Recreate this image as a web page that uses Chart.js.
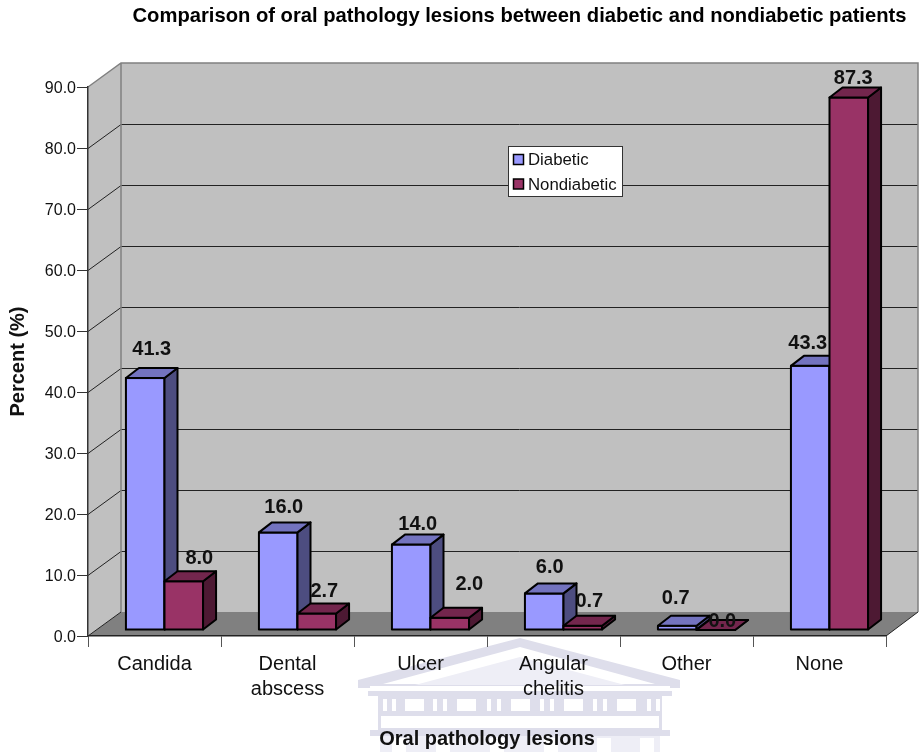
<!DOCTYPE html>
<html>
<head>
<meta charset="utf-8">
<title>Oral pathology lesions</title>
<script src="https://cdn.jsdelivr.net/npm/chart.js@4"></script>
<style>
  html, body { margin: 0; padding: 0; background: #fff; }
  canvas { display: block; }
</style>
</head>
<body>
<canvas id="lesionChart" width="919" height="752"></canvas>
<script>
const categories = ['Candida', ['Dental', 'abscess'], 'Ulcer', ['Angular', 'chelitis'], 'Other', 'None'];
const diabetic = [41.3, 16.0, 14.0, 6.0, 0.7, 43.3];
const nondiabetic = [8.0, 2.7, 2.0, 0.7, 0.0, 87.3];
const titleText = 'Comparison of oral pathology lesions between diabetic and nondiabetic patients';

// nudges for value labels, so they sit where they read best: [dx, dy] from the bar top
const diabeticLabelNudge = [[6.5, -29], [5.5, -25], [6.5, -20], [5.5, -26], [-1.5, -27], [-2.5, -22]];
const nondiabeticLabelNudge = [[15.5, -23], [7.5, -22], [19.5, -33], [6.5, -24], [6.5, -8.5], [4.5, -19]];

const FONT = '"Liberation Sans", Arial, sans-serif';

// wall depth, bar offset from the front plane, bar depth
const WALL_DX = 33, WALL_DY = 24;
const BAR_DX = 10, BAR_DY = 6;
const DEPTH_DX = 13, DEPTH_DY = 10;

const faceColors = [
  { side: '#4D4D80', top: '#7373BF' },
  { side: '#4D1933', top: '#73264D' }
];

// faint building crest behind the lower labels
function drawCrest(ctx) {
  const dark = '#DEDEEB', light = '#EEEEF6';
  ctx.save();
  ctx.filter = 'blur(0.7px)';
  // pediment: outer band, white stripe, inner field
  ctx.fillStyle = dark;
  ctx.beginPath();
  ctx.moveTo(520, 638);
  ctx.lineTo(680, 680);
  ctx.lineTo(680, 688);
  ctx.lineTo(358, 688);
  ctx.lineTo(358, 680);
  ctx.closePath();
  ctx.fill();
  ctx.fillStyle = '#FFFFFF';
  ctx.beginPath();
  ctx.moveTo(520, 647);
  ctx.lineTo(655, 684);
  ctx.lineTo(383, 684);
  ctx.closePath();
  ctx.fill();
  ctx.fillStyle = light;
  ctx.beginPath();
  ctx.moveTo(520, 657);
  ctx.lineTo(625, 685);
  ctx.lineTo(415, 685);
  ctx.closePath();
  ctx.fill();
  // white strip, cornice, then the window row
  ctx.fillStyle = '#FFFFFF';
  ctx.fillRect(370, 686, 300, 5);
  ctx.fillStyle = dark;
  ctx.fillRect(368, 691, 304, 5);
  ctx.fillRect(378, 696, 284, 40);
  ctx.fillRect(370, 730, 300, 6);
  ctx.fillStyle = '#FFFFFF';
  for (const x of [405, 457, 511, 564, 617]) ctx.fillRect(x, 699, 19, 12);
  for (const x of [383, 392, 433, 443, 487, 497, 540, 550, 593, 603, 647, 656]) ctx.fillRect(x, 699, 4, 12);
  ctx.fillRect(381, 716, 278, 12);
  // columns
  ctx.fillStyle = light;
  ctx.fillRect(380, 736, 280, 16);
  ctx.fillStyle = '#FFFFFF';
  for (const x of [392, 436, 490, 544, 597, 640]) ctx.fillRect(x, 738, 14, 14);
  ctx.restore();
}

function poly(ctx, pts, fill, stroke, lineWidth) {
  ctx.beginPath();
  pts.forEach((p, i) => i ? ctx.lineTo(p[0], p[1]) : ctx.moveTo(p[0], p[1]));
  ctx.closePath();
  ctx.fillStyle = fill;
  ctx.fill();
  if (stroke) {
    ctx.strokeStyle = stroke;
    ctx.lineWidth = lineWidth || 1;
    ctx.lineJoin = 'round';
    ctx.stroke();
  }
}

const boxPlugin = {
  id: 'box3d',
  beforeDraw(chart) {
    const { ctx, chartArea: a, scales: { y } } = chart;
    drawCrest(ctx);

    // left wall, back wall, floor
    poly(ctx, [[a.left, a.bottom], [a.left, a.top], [a.left + WALL_DX, a.top - WALL_DY], [a.left + WALL_DX, a.bottom - WALL_DY]], '#C0C0C0');
    poly(ctx, [[a.left + WALL_DX, a.top - WALL_DY], [a.right + WALL_DX - 1, a.top - WALL_DY], [a.right + WALL_DX - 1, a.bottom - WALL_DY], [a.left + WALL_DX, a.bottom - WALL_DY]], '#C0C0C0');
    poly(ctx, [[a.left, a.bottom], [a.left + WALL_DX, a.bottom - WALL_DY], [a.right + WALL_DX - 1, a.bottom - WALL_DY], [a.right, a.bottom]], '#808080');

    // gridlines run up the left wall and across the back
    ctx.strokeStyle = '#222';
    ctx.lineWidth = 1;
    y.ticks.forEach(t => {
      if (t.value === 0 || t.value === y.max) return;
      const py = Math.round(y.getPixelForValue(t.value)) + 0.5;
      ctx.beginPath();
      ctx.moveTo(a.left, py);
      ctx.lineTo(a.left + WALL_DX, py - WALL_DY);
      ctx.lineTo(a.right + WALL_DX - 1, py - WALL_DY);
      ctx.stroke();
    });

    // wall edges
    ctx.strokeStyle = '#808080';
    ctx.lineWidth = 1.5;
    ctx.beginPath();
    ctx.moveTo(a.left, a.top);
    ctx.lineTo(a.left + WALL_DX, a.top - WALL_DY);
    ctx.lineTo(a.right + WALL_DX - 1, a.top - WALL_DY);
    ctx.lineTo(a.right + WALL_DX - 1, a.bottom - WALL_DY);
    ctx.moveTo(a.left + WALL_DX, a.top - WALL_DY);
    ctx.lineTo(a.left + WALL_DX, a.bottom - WALL_DY);
    ctx.stroke();
    ctx.strokeStyle = '#222';
    ctx.lineWidth = 1;
    ctx.beginPath();
    ctx.moveTo(a.left, a.bottom);
    ctx.lineTo(a.left + WALL_DX, a.bottom - WALL_DY);
    ctx.moveTo(a.right, a.bottom);
    ctx.lineTo(a.right + WALL_DX - 1, a.bottom - WALL_DY);
    ctx.stroke();
  },
  // the default pass paints the last series first; the boxes need the first series at the back
  beforeDatasetDraw() {
    return false;
  },
  afterDatasetsDraw(chart) {
    const { ctx } = chart;
    ctx.save();
    // bars sit a little behind the front plane
    ctx.translate(BAR_DX, -BAR_DY);
    chart.data.datasets.forEach((ds, i) => {
      const colors = faceColors[i];
      chart.getDatasetMeta(i).data.forEach(bar => {
        const { x, y, base, width } = bar.getProps(['x', 'y', 'base', 'width'], true);
        const l = x - width / 2, r = x + width / 2;
        bar.draw(ctx);
        ctx.strokeStyle = '#000';
        ctx.lineWidth = 2;
        ctx.strokeRect(l, y, width, base - y);
        poly(ctx, [[r, y], [r + DEPTH_DX, y - DEPTH_DY], [r + DEPTH_DX, base - DEPTH_DY], [r, base]], colors.side, '#000', 2);
        poly(ctx, [[l, y], [l + DEPTH_DX, y - DEPTH_DY], [r + DEPTH_DX, y - DEPTH_DY], [r, y]], colors.top, '#000', 2);
      });
    });
    ctx.restore();
  },
  afterDraw(chart) {
    const { ctx } = chart;
    ctx.save();

    ctx.fillStyle = '#000';
    ctx.textAlign = 'center';
    ctx.textBaseline = 'middle';
    ctx.font = 'bold 20.2px ' + FONT;
    ctx.fillText(titleText, 519.5, 16);

    // value labels
    ctx.fillStyle = '#111';
    ctx.font = 'bold 20px ' + FONT;
    [diabeticLabelNudge, nondiabeticLabelNudge].forEach((nudge, ds) => {
      chart.getDatasetMeta(ds).data.forEach((bar, i) => {
        const value = chart.data.datasets[ds].data[i];
        ctx.fillText(value.toFixed(1), bar.x + BAR_DX + nudge[i][0], bar.y - BAR_DY + nudge[i][1]);
      });
    });

    // legend box
    const lx = 508.5, ly = 146.5, lw = 114, lh = 50;
    ctx.fillStyle = '#fff';
    ctx.fillRect(lx, ly, lw, lh);
    ctx.strokeStyle = '#333';
    ctx.lineWidth = 1;
    ctx.strokeRect(lx, ly, lw, lh);
    ctx.textAlign = 'left';
    ctx.font = '16.8px ' + FONT;
    chart.data.datasets.forEach((ds, i) => {
      const rowY = 159.5 + i * 24.5;
      ctx.fillStyle = ds.backgroundColor;
      ctx.fillRect(lx + 5, rowY - 5, 10, 10);
      ctx.strokeStyle = '#000';
      ctx.lineWidth = 1.5;
      ctx.strokeRect(lx + 5, rowY - 5, 10, 10);
      ctx.fillStyle = '#111';
      ctx.fillText(ds.label, 528, rowY + 1);
    });
    ctx.restore();
  }
};

new Chart(document.getElementById('lesionChart').getContext('2d'), {
  type: 'bar',
  data: {
    labels: categories,
    datasets: [
      { label: 'Diabetic', data: diabetic, backgroundColor: '#9999FF' },
      { label: 'Nondiabetic', data: nondiabetic, backgroundColor: '#993366' }
    ]
  },
  options: {
    responsive: false,
    animation: false,
    events: [],
    layout: { padding: { top: 87, right: 33, bottom: 0, left: 0 } },
    datasets: {
      bar: {
        categoryPercentage: 0.58,
        barPercentage: 1,
        borderWidth: 0,
        clip: false
      }
    },
    plugins: {
      legend: { display: false },
      title: { display: false },
      tooltip: { enabled: false }
    },
    scales: {
      x: {
        afterFit: scale => { scale.height = 116; },
        grid: { offset: true, drawOnChartArea: false, tickLength: 11, tickColor: '#555', lineWidth: 1 },
        border: { color: '#222', width: 1.5 },
        ticks: {
          color: '#111',
          padding: 5,
          autoSkip: false,
          maxRotation: 0,
          font: { family: FONT, size: 20, lineHeight: 1.25 }
        },
        title: {
          display: true,
          text: 'Oral pathology lesions',
          color: '#111',
          padding: { top: 0, bottom: 1 },
          font: { family: FONT, size: 20, weight: 'bold' }
        }
      },
      y: {
        min: 0,
        max: 90,
        afterFit: scale => { scale.width = 88; },
        grid: { drawOnChartArea: false, tickLength: 11, tickColor: '#333', lineWidth: 1 },
        border: { color: '#333', width: 1.5 },
        ticks: {
          stepSize: 10,
          color: '#111',
          padding: 1,
          labelOffset: 1.5,
          callback: v => v.toFixed(1),
          font: { family: FONT, size: 16 }
        },
        title: {
          display: true,
          text: 'Percent (%)',
          color: '#111',
          padding: { top: 6, bottom: 0 },
          font: { family: FONT, size: 20, weight: 'bold' }
        }
      }
    }
  },
  plugins: [boxPlugin]
});
</script>
</body>
</html>
